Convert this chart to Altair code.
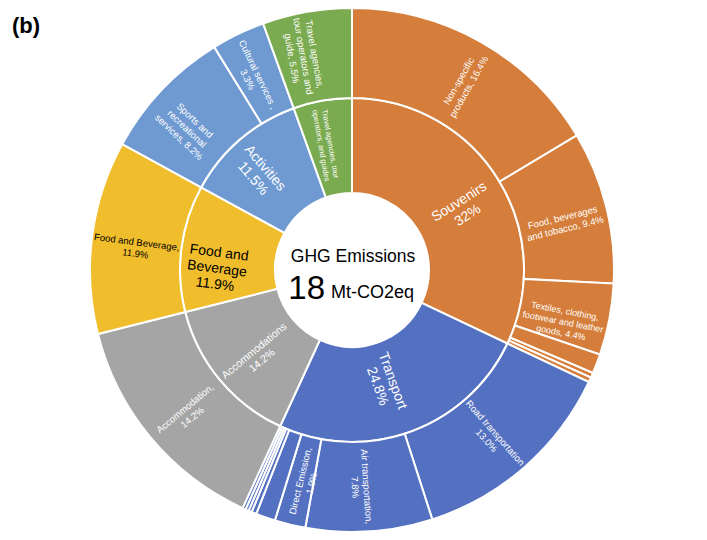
import math
import altair as alt
import pandas as pd

# ---- data ----
inner_labels = ["Souvenirs", "Transport", "Accommodations", "Food and Beverage",
                "Activities", "Travel agencies, tour operators, and guides"]
inner_values = [32.0, 24.8, 14.2, 11.9, 11.5, 5.5]
inner_text = ["Souvenirs\n32%", "Transport\n24.8%", "Accommodations\n14.2%",
              "Food and\nBeverage\n11.9%", "Activities\n11.5%",
              "Travel agencies, tour\noperators, and guides"]

outer_parent = ["Souvenirs"] * 6 + ["Transport"] * 8 + ["Accommodations"] + \
               ["Food and Beverage"] + ["Activities"] * 2 + \
               ["Travel agencies, tour operators, and guides"]
outer_values = [16.4, 9.4, 4.4, 1.2, 0.3, 0.3,
                13.0, 7.8, 1.9, 1.2, 0.3, 0.2, 0.2, 0.2,
                14.2, 11.9, 8.2, 3.3, 5.5]
outer_text = ["Non-specific\nproducts, 16.4%", "Food, beverages\nand tobacco, 9.4%",
              "Textiles, clothing,\nfootwear and leather\ngoods, 4.4%", "", "", "",
              "Road transportation\n13.0%", "Air transportation,\n7.8%",
              "Direct Emission,\n1.9%", "", "", "", "", "",
              "Accommodation,\n14.2%", "Food and Beverage,\n11.9%",
              "Sports and\nrecreational\nservices, 8.2%", "Cultural services ,\n3.3%",
              "Travel agencies,\ntour operators and\nguide, 5.5%"]

colors = ["#D57D3A", "#5471C1", "#A5A5A5", "#F0BD2C", "#6E99D1", "#7BAB50"]

# ---- styles ----
inner_size = [14, 14, 10.5, 14, 14, 7.5]
inner_radius = [127, 118, 127, 134, 134, 128]
inner_color = ["white", "white", "white", "black", "white", "white"]
outer_color = ["black" if p == "Food and Beverage" else "white" for p in outer_parent]
outer_size = [9.5, 9.5, 9, 9, 9, 9, 9.5, 9.5, 9.5, 9, 9, 9, 9, 9, 9.5, 9.5, 9.5, 9.5, 9.5]
outer_radius = [217] * 18 + [219]

total = sum(inner_values)


def build(labels, values, parents, texts):
    rows = []
    acc = 0.0
    for lab, v, p, t in zip(labels, values, parents, texts):
        mid = acc + v / 2
        deg = mid / total * 360
        ang = deg - 90 if deg < 180 else deg - 270
        rows.append(dict(name=lab, parent=p, start=acc, end=acc + v, mid=mid,
                         angle=ang % 360, text=t))
        acc += v
    return pd.DataFrame(rows)


inner_df = build(inner_labels, inner_values, inner_labels, inner_text)
inner_df["size"] = inner_size
inner_df["tcolor"] = inner_color
inner_df["r"] = inner_radius
outer_df = build(list(range(len(outer_values))), outer_values, outer_parent, outer_text)
outer_df["tcolor"] = outer_color
outer_df["size"] = outer_size
outer_df["r"] = outer_radius

theta_scale = alt.Scale(domain=[0, total], range=[0, 2 * math.pi])
color_scale = alt.Scale(domain=inner_labels, range=colors)

R0, R1, R2 = 77, 172, 262

inner_arcs = alt.Chart(inner_df).mark_arc(stroke="white", strokeWidth=2).encode(
    theta=alt.Theta("start:Q", scale=theta_scale),
    theta2="end:Q",
    radius=alt.value(R0),
    radius2=alt.value(R1),
    color=alt.Color("parent:N", scale=color_scale, legend=None),
)
outer_arcs = alt.Chart(outer_df).mark_arc(stroke="white", strokeWidth=2).encode(
    theta=alt.Theta("start:Q", scale=theta_scale),
    theta2="end:Q",
    radius=alt.value(R1),
    radius2=alt.value(R2),
    color=alt.Color("parent:N", scale=color_scale, legend=None),
)

inner_text_l = alt.Chart(inner_df).mark_text(
    font="Liberation Sans", lineBreak="\n", align="center", baseline="middle"
).encode(
    theta=alt.Theta("mid:Q", scale=theta_scale),
    radius=alt.Radius("r:Q", scale=None),
    text="text:N",
    angle=alt.Angle("angle:Q", scale=None),
    size=alt.Size("size:Q", scale=None),
    color=alt.Color("tcolor:N", scale=None),
)
outer_text_l = alt.Chart(outer_df).mark_text(
    font="Liberation Sans", lineBreak="\n", align="center", baseline="middle"
).encode(
    theta=alt.Theta("mid:Q", scale=theta_scale),
    radius=alt.Radius("r:Q", scale=None),
    text="text:N",
    angle=alt.Angle("angle:Q", scale=None),
    size=alt.Size("size:Q", scale=None),
    color=alt.Color("tcolor:N", scale=None),
)

base = alt.Chart(pd.DataFrame({"a": [0]}))
c1 = base.mark_text(font="Liberation Sans", fontSize=17.5, align="center", baseline="alphabetic").encode(
    x=alt.value(345), y=alt.value(254), text=alt.value("GHG Emissions"))
c2 = base.mark_text(font="Liberation Sans", fontSize=33, align="right", baseline="alphabetic").encode(
    x=alt.value(317), y=alt.value(291), text=alt.value("18"))
c3 = base.mark_text(font="Liberation Sans", fontSize=18, align="left", baseline="alphabetic").encode(
    x=alt.value(323), y=alt.value(290), text=alt.value("Mt-CO2eq"))
tag = base.mark_text(font="Liberation Sans", fontSize=22, fontWeight="bold", align="left",
                     baseline="alphabetic").encode(
    x=alt.value(4), y=alt.value(25), text=alt.value("(b)"))

chart = alt.layer(inner_arcs, outer_arcs, inner_text_l, outer_text_l, c1, c2, c3, tag).properties(
    width=688, height=524, padding=0, autosize=alt.AutoSizeParams(type="none")
).configure_view(stroke=None)

chart.save("out.html", embed_options={"renderer": "svg", "actions": False})
